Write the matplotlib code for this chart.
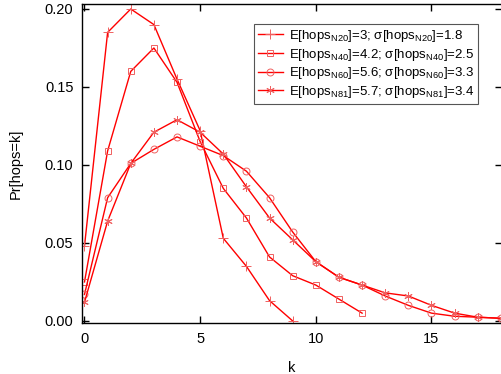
import matplotlib
matplotlib.use('Agg')
import matplotlib.pyplot as plt

plt.rcParams['font.family'] = ['Liberation Sans', 'DejaVu Sans']
plt.rcParams['mathtext.fontset'] = 'custom'
plt.rcParams['mathtext.rm'] = 'Liberation Sans'
plt.rcParams['mathtext.it'] = 'Liberation Sans'

# Pr[hops=k]
k_n20 = list(range(0, 10))
p_n20 = [0.048, 0.185, 0.200, 0.190, 0.155, 0.122, 0.053, 0.035, 0.013, 0.000]

k_n40 = list(range(0, 13))
p_n40 = [0.025, 0.109, 0.160, 0.175, 0.153, 0.115, 0.085, 0.066, 0.041,
         0.029, 0.023, 0.014, 0.005]

k_n60 = list(range(0, 19))
p_n60 = [0.017, 0.079, 0.101, 0.110, 0.118, 0.112, 0.106, 0.096, 0.079,
         0.057, 0.038, 0.028, 0.023, 0.016, 0.010, 0.005, 0.003, 0.0024, 0.0017]

k_n81 = list(range(0, 19))
p_n81 = [0.012, 0.064, 0.101, 0.121, 0.129, 0.121, 0.107, 0.086, 0.066,
         0.052, 0.038, 0.028, 0.023, 0.018, 0.016, 0.010, 0.005, 0.0024, 0.0017]

labels = [
    r'E[hops$_{\mathrm{N20}}$]=3; σ[hops$_{\mathrm{N20}}$]=1.8',
    r'E[hops$_{\mathrm{N40}}$]=4.2; σ[hops$_{\mathrm{N40}}$]=2.5',
    r'E[hops$_{\mathrm{N60}}$]=5.6; σ[hops$_{\mathrm{N60}}$]=3.3',
    r'E[hops$_{\mathrm{N81}}$]=5.7; σ[hops$_{\mathrm{N81}}$]=3.4',
]

fig = plt.figure(figsize=(5.01, 3.74), dpi=100)
ax = fig.add_axes([0.1631, 0.1356, 0.839, 0.8537])

red = '#ff0000'
mk = dict(color=red, lw=1.0, mfc='none', mec='#f06060', mew=0.7, ms=6)
ax.plot(k_n20, p_n20, marker='+', label=labels[0], **{**mk, 'ms': 7})
ax.plot(k_n40, p_n40, marker='s', label=labels[1], **{**mk, 'ms': 5})
ax.plot(k_n60, p_n60, marker='o', label=labels[2], **{**mk, 'ms': 5})
ax.plot(k_n81, p_n81, marker=(6, 2, 0), label=labels[3], **mk)

ax.set_xlim(-0.12, 18.05)
ax.set_ylim(-0.0015, 0.2032)
ax.set_xticks([0, 5, 10, 15])
ax.set_yticks([0.0, 0.05, 0.10, 0.15, 0.20])
ax.set_yticklabels(['0.00', '0.05', '0.10', '0.15', '0.20'])
ax.tick_params(direction='in', length=5, width=1, top=True, right=True,
               labelsize=10.5, pad=6)
for s in ax.spines.values():
    s.set_linewidth(1.0)

ax.set_xlabel('k', fontsize=10.5, labelpad=11)
ax.set_ylabel('Pr[hops=k]', fontsize=10.5, labelpad=16)

leg = ax.legend(loc='upper right', bbox_to_anchor=(0.943, 0.937), fontsize=9.5,
                fancybox=False, edgecolor='#555555', framealpha=1,
                handlelength=1.9, handletextpad=0.45, borderpad=0.3,
                labelspacing=0.2, borderaxespad=0)
leg.get_frame().set_linewidth(0.8)

fig.savefig('out.png', dpi=100)
